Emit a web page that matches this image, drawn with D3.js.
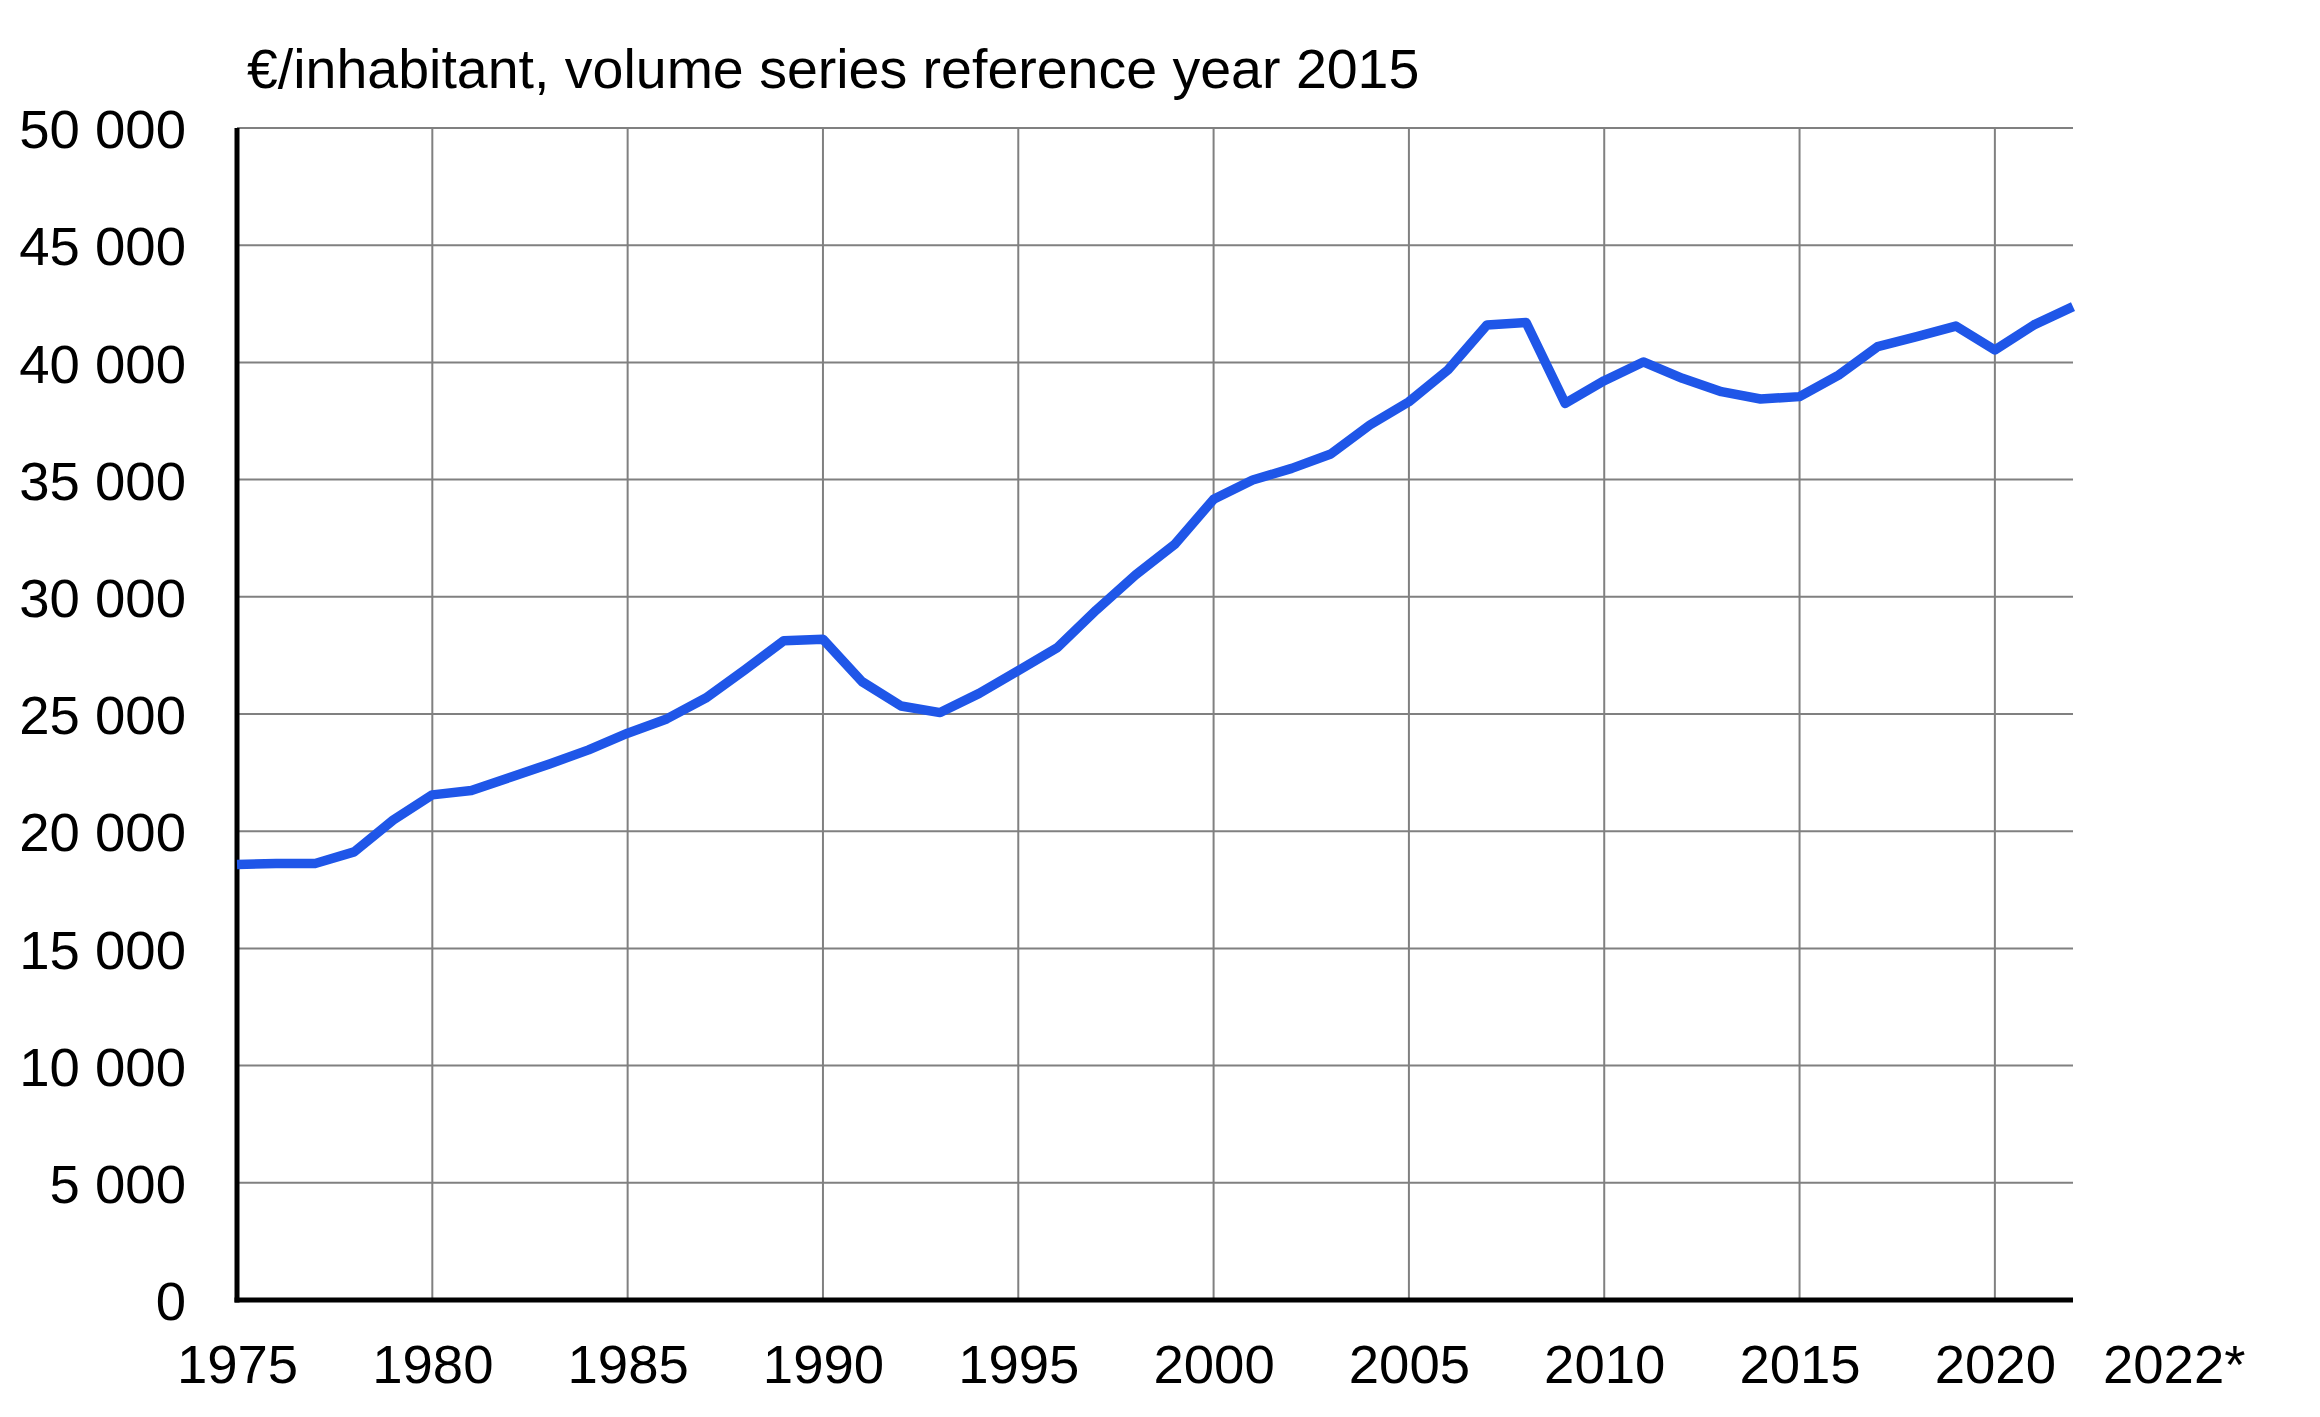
<!DOCTYPE html>
<html>
<head>
<meta charset="utf-8">
<script src="https://cdn.jsdelivr.net/npm/d3@7"></script>
<style>
  body { margin: 0; background: #fff; }
  text { font-family: "Liberation Sans", Arial, sans-serif; fill: #000; }
</style>
</head>
<body>
<div id="chart-area"></div>
<script>
// data
var years = d3.range(1975, 2023);
var gdpPerCapita = [
    18580, 18620, 18620, 19120, 20480, 21550, 21740, 22300, 22870, 23470,
    24180, 24790, 25680, 26880, 28130, 28190, 26380, 25340, 25060, 25880,
    26850, 27830, 29440, 30930, 32230, 34160, 34980, 35480, 36090, 37330,
    38320, 39680, 41600, 41700, 38250, 39220, 40020, 39320, 38750, 38440,
    38540, 39460, 40670, 41100, 41550, 40530, 41600, 42380
];
var yTicks = [0, 5000, 10000, 15000, 20000, 25000, 30000, 35000, 40000, 45000, 50000];
var xTicks = [1975, 1980, 1985, 1990, 1995, 2000, 2005, 2010, 2015, 2020];
var lastLabel = "2022*";
var title = "€/inhabitant, volume series reference year 2015";

var margin = { left: 237, right: 247, top: 128, bottom: 117 };
var width = 2320 - margin.left - margin.right,
    height = 1417 - margin.top - margin.bottom;

var svg = d3.select("#chart-area")
    .append("svg")
        .attr("width", 2320)
        .attr("height", 1417);

var g = svg.append("g")
    .attr("transform", "translate(" + margin.left + "," + margin.top + ")");

// Scales
var x = d3.scaleLinear()
    .domain([1975, 2022])
    .range([0, width]);
var y = d3.scaleLinear()
    .domain([0, 50000])
    .range([height, 0]);

var fmt = d3.formatLocale({ decimal: ",", thousands: " ", grouping: [3], currency: ["", "€"] }).format(",");

// Grid
g.append("g")
    .attr("class", "grid")
    .selectAll("line.h")
    .data(yTicks.filter(function(d){ return d > 0; }))
    .enter().append("line")
        .attr("x1", 0)
        .attr("x2", width)
        .attr("y1", function(d){ return y(d); })
        .attr("y2", function(d){ return y(d); })
        .attr("stroke", "#808080")
        .attr("stroke-width", 2);

g.append("g")
    .attr("class", "grid")
    .selectAll("line.v")
    .data(xTicks.filter(function(d){ return d > 1975; }))
    .enter().append("line")
        .attr("x1", function(d){ return x(d); })
        .attr("x2", function(d){ return x(d); })
        .attr("y1", 0)
        .attr("y2", height)
        .attr("stroke", "#808080")
        .attr("stroke-width", 2);

// Y Axis labels
var yAxisCall = d3.axisLeft(y)
    .tickValues(yTicks)
    .tickSize(0)
    .tickPadding(51)
    .tickFormat(fmt);
var yAxis = g.append("g")
    .attr("class", "y axis")
    .call(yAxisCall);
yAxis.select(".domain").remove();
yAxis.selectAll("text")
    .attr("font-size", "54.5px")
    .attr("fill", "#000")
    .attr("dy", "0.36em")
    .style("font-family", "'Liberation Sans', Arial, sans-serif");

// X Axis labels
var xAxisCall = d3.axisBottom(x)
    .tickValues(xTicks)
    .tickSize(0)
    .tickPadding(45)
    .tickFormat(d3.format("d"));
var xAxis = g.append("g")
    .attr("class", "x axis")
    .attr("transform", "translate(0," + height + ")")
    .call(xAxisCall);
xAxis.select(".domain").remove();
xAxis.selectAll("text")
    .attr("font-size", "54.5px")
    .attr("fill", "#000")
    .attr("dy", "0")
    .attr("y", 83)
    .style("font-family", "'Liberation Sans', Arial, sans-serif");

g.append("text")
    .attr("x", x(2022) + 30)
    .attr("y", height + 83)
    .attr("font-size", "54.5px")
    .text(lastLabel);

// axis lines
g.append("line")
    .attr("x1", 0).attr("x2", 0)
    .attr("y1", 0).attr("y2", height + 2.5)
    .attr("stroke", "#000")
    .attr("stroke-width", 5);
g.append("line")
    .attr("x1", -2.5).attr("x2", width)
    .attr("y1", height).attr("y2", height)
    .attr("stroke", "#000")
    .attr("stroke-width", 5);

// Line
var line = d3.line()
    .x(function(d, i){ return x(years[i]); })
    .y(function(d){ return y(d); });

g.append("path")
    .datum(gdpPerCapita)
    .attr("fill", "none")
    .attr("stroke", "#1f56e8")
    .attr("stroke-width", 9.5)
    .attr("stroke-linejoin", "round")
    .attr("d", line);

// Title
svg.append("text")
    .attr("x", 247)
    .attr("y", 88)
    .attr("font-size", "55.5px")
    .text(title);
</script>
</body>
</html>
